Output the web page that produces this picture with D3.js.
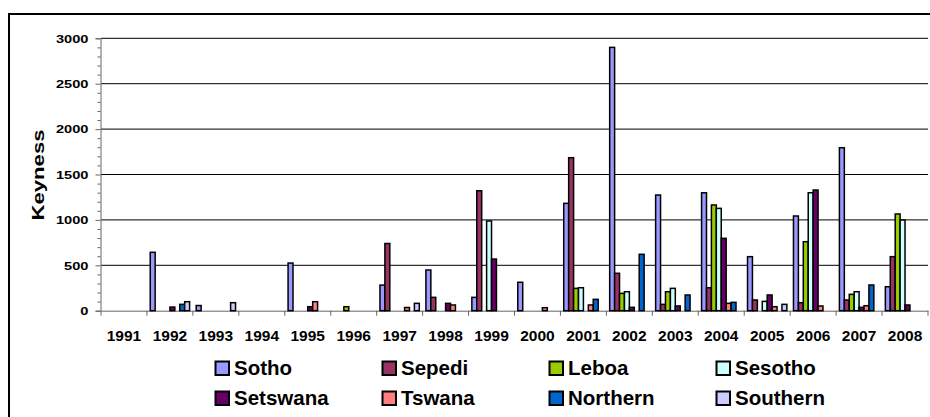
<!DOCTYPE html>
<html><head><meta charset="utf-8">
<script src="https://cdn.jsdelivr.net/npm/d3@7"></script>
<style>
body{margin:0;background:#fff;}
svg{display:block;}
text{font-family:"Liberation Sans",Arial,Helvetica,sans-serif;font-weight:bold;fill:#000;}
</style>
</head><body>
<svg id="chart" width="930" height="417"></svg>
<script>
// ---- data ----
const years = ["1991","1992","1993","1994","1995","1996","1997","1998","1999","2000","2001","2002","2003","2004","2005","2006","2007","2008"];
const seriesNames = ["Sotho","Sepedi","Leboa","Sesotho","Setswana","Tswana","Northern","Southern"];
const seriesColors = ["#9999FF","#993366","#99CC00","#CCFFFF","#660066","#FF8080","#0066CC","#CCCCFF"];
const sotho    = [0,643,57,0,525,0,282,448,147,313,1182,2900,1274,1299,595,1043,1795,264];
const sepedi   = [0,0,0,0,0,0,740,147,1321,0,1685,412,70,253,118,88,118,595];
const leboa    = [0,0,0,0,0,44,0,0,0,0,246,191,209,1164,0,760,180,1065];
const sesotho  = [0,0,0,0,0,0,0,0,988,0,253,209,246,1127,103,1299,209,999];
const setswana = [0,40,0,0,44,0,0,81,569,0,0,37,52,797,173,1329,37,63];
const tswana   = [0,0,0,0,99,0,35,63,0,33,63,0,0,81,44,52,55,0];
const northern = [0,70,0,0,0,0,0,0,0,0,125,621,173,92,0,0,283,0];
const southern = [0,99,88,0,0,0,81,0,0,0,0,0,0,0,70,0,0,0];
const yTickValues = [0,500,1000,1500,2000,2500,3000];
const yAxisTitle = "Keyness";

const seriesValues = [sotho,sepedi,leboa,sesotho,setswana,tswana,northern,southern];

// ---- layout ----
const svg = d3.select("#chart");
const plotL = 101, plotR = 928, plotT = 38.3, plotB = 310.7;

// outer frame
svg.append("rect").attr("x",9).attr("y",14).attr("width",1000).attr("height",1000)
  .attr("fill","none").attr("stroke","#000").attr("stroke-width",2);

const x = d3.scaleBand().domain(years).range([plotL, plotR]).padding(0);
const xs = d3.scaleBand().domain(seriesNames).range([3.3, x.bandwidth()-3.3]).padding(0);
const y = d3.scaleLinear().domain([0,3000]).range([plotB, plotT]);

// gridlines
svg.append("g").selectAll("line").data(yTickValues.filter(v=>v>0)).join("line")
  .attr("x1",plotL).attr("x2",plotR).attr("y1",d=>y(d)).attr("y2",d=>y(d))
  .attr("stroke","#000").attr("stroke-width",1);

// y axis
const yAxis = d3.axisLeft(y).tickValues(yTickValues).tickSize(5).tickFormat("");
const gy = svg.append("g").attr("transform",`translate(${plotL-0.5},0)`).call(yAxis);
gy.select(".domain").attr("stroke","#666");
gy.selectAll(".tick line").attr("stroke","#666");
const yMinor = d3.axisLeft(y).tickValues(d3.range(0,3001,100).filter(v=>v%500!==0)).tickSize(3).tickFormat("");
const gym = svg.append("g").attr("transform",`translate(${plotL-0.5},0)`).call(yMinor);
gym.select(".domain").remove();
gym.selectAll(".tick line").attr("stroke","#666");

// y tick labels (stretched horizontally like the reference)
svg.append("g").selectAll("text").data(yTickValues).join("text")
  .attr("transform",d=>`translate(88.5,${y(d)+4.3}) scale(1.33,1)`)
  .attr("text-anchor","end").style("font-size","11px")
  .text(d=>d);

// y title
svg.append("text")
  .attr("transform","translate(43.5,175) rotate(-90) scale(1.34,1)")
  .attr("text-anchor","middle").style("font-size","16.5px")
  .text(yAxisTitle);

// x axis
const xAxis = d3.axisBottom(x).tickSize(0).tickFormat("");
const gx = svg.append("g").attr("transform",`translate(0,${plotB})`).call(xAxis);
gx.select(".domain").attr("stroke","#666");
svg.append("g").selectAll("line").data(years.concat(["end"])).join("line")
  .attr("x1",(d,i)=> i<years.length ? x(d) : plotR)
  .attr("x2",(d,i)=> i<years.length ? x(d) : plotR)
  .attr("y1",plotB).attr("y2",plotB+5).attr("stroke","#666");
svg.append("g").selectAll("text").data(years).join("text")
  .attr("x",d=>x(d)+x.bandwidth()/2).attr("y",340.5)
  .attr("text-anchor","middle").style("font-size","15.5px")
  .text(d=>d);

// bars
const barData = [];
seriesNames.forEach((s,si)=>{
  years.forEach((yr,yi)=>{
    const v = seriesValues[si][yi];
    if (v>0) barData.push({s, si, yr, v});
  });
});
svg.append("g").selectAll("rect").data(barData).join("rect")
  .attr("x",d=>x(d.yr)+xs(d.s))
  .attr("width",xs.bandwidth())
  .attr("y",d=>y(d.v))
  .attr("height",d=>y(0)-y(d.v))
  .attr("fill",d=>seriesColors[d.si])
  .attr("stroke","#000").attr("stroke-width",1.5);

// legend
const legX = [215.5,382.5,549.5,716.5], legY = [361.5,391.5];
const leg = svg.append("g").selectAll("g").data(seriesNames).join("g")
  .attr("transform",(d,i)=>`translate(${legX[i%4]},${legY[Math.floor(i/4)]})`);
leg.append("rect").attr("width",13.5).attr("height",13.5)
  .attr("fill",(d,i)=>seriesColors[i]).attr("stroke","#000").attr("stroke-width",2);
leg.append("text").attr("x",18.5).attr("y",13.7).style("font-size","20.5px").text(d=>d);
</script>
</body></html>
